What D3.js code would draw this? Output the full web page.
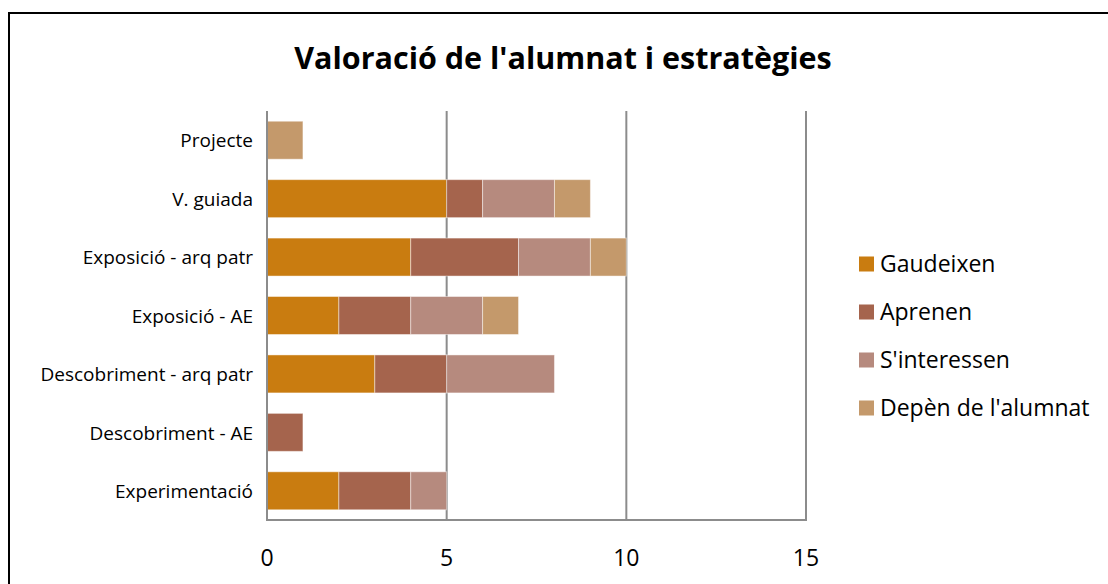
<!DOCTYPE html>
<html>
<head>
<meta charset="utf-8">
<script src="https://cdn.jsdelivr.net/npm/d3@7"></script>
<style>
  body { margin: 0; background: #fff; }
  svg { display: block; font-family: "Open Sans", "Noto Sans", sans-serif; }
</style>
</head>
<body>
<div id="chart"></div>
<script>
// Data
const categories = ["Projecte", "V. guiada", "Exposició - arq patr", "Exposició - AE",
                    "Descobriment - arq patr", "Descobriment - AE", "Experimentació"];
const seriesNames = ["Gaudeixen", "Aprenen", "S'interessen", "Depèn de l'alumnat"];
const gaudeixen   = [0, 5, 4, 2, 3, 0, 2];
const aprenen     = [0, 1, 3, 2, 2, 1, 2];
const interessen  = [0, 2, 2, 2, 3, 0, 1];
const depen       = [1, 1, 1, 1, 0, 0, 0];
const xTicks = [0, 5, 10, 15];

const colors = ["#C97C10", "#A5644D", "#B68A7E", "#C4996B"];

const width = 1108, height = 584;
const svg = d3.select('#chart').append('svg')
    .attr('width', width)
    .attr('height', height);

// Outer frame (cropped on right/bottom)
svg.append('rect')
    .attr('x', 9).attr('y', 13)
    .attr('width', 1200).attr('height', 700)
    .attr('fill', 'none')
    .attr('stroke', '#000')
    .attr('stroke-width', 2);

// Title
svg.append('text')
    .attr('x', 563).attr('y', 69)
    .attr('text-anchor', 'middle')
    .style('font-weight', 'bold')
    .style('font-size', '30.5px')
    .text("Valoració de l'alumnat i estratègies");

const x = d3.scaleLinear().domain([0, 15]).range([267, 806]);
const y = d3.scaleBand().domain(categories).range([111, 520]).paddingInner(0.35).paddingOuter(0.175);

// Gridlines
svg.append('g')
    .selectAll('line')
    .data(xTicks.slice(1))
    .join('line')
    .attr('x1', d => x(d)).attr('x2', d => x(d))
    .attr('y1', 111).attr('y2', 520)
    .attr('stroke', '#8c8c8c')
    .attr('stroke-width', 2);

// Stack
const table = categories.map((c, i) => ({
    cat: c, s0: gaudeixen[i], s1: aprenen[i], s2: interessen[i], s3: depen[i]
}));
const stack = d3.stack().keys(['s0', 's1', 's2', 's3'])(table);

svg.append('g')
    .selectAll('g')
    .data(stack)
    .join('g')
    .attr('fill', (d, i) => colors[i])
    .selectAll('rect')
    .data(d => d.filter(v => v[1] > v[0]))
    .join('rect')
    .attr('x', d => x(d[0]))
    .attr('width', d => x(d[1]) - x(d[0]))
    .attr('y', d => y(d.data.cat))
    .attr('height', y.bandwidth())
    .attr('stroke', 'rgba(255,255,255,0.45)')
    .attr('stroke-width', 1);

// Axes lines
svg.append('line')
    .attr('x1', 267).attr('x2', 267).attr('y1', 111).attr('y2', 521)
    .attr('stroke', '#8c8c8c').attr('stroke-width', 2);
svg.append('line')
    .attr('x1', 266).attr('x2', 807).attr('y1', 520).attr('y2', 520)
    .attr('stroke', '#8c8c8c').attr('stroke-width', 2);

// Category labels
svg.append('g')
    .selectAll('text')
    .data(categories)
    .join('text')
    .attr('x', 253)
    .attr('y', d => y(d) + y.bandwidth() / 2)
    .attr('dy', '0.38em')
    .attr('text-anchor', 'end')
    .style('font-size', '19px')
    .text(d => d);

// Tick labels
svg.append('g')
    .selectAll('text')
    .data(xTicks)
    .join('text')
    .attr('x', d => x(d))
    .attr('y', 558)
    .attr('dy', '0.35em')
    .attr('text-anchor', 'middle')
    .style('font-size', '23px')
    .text(d => d);

// Legend
const legend = svg.append('g')
    .selectAll('g')
    .data(seriesNames)
    .join('g')
    .attr('transform', (d, i) => `translate(859, ${264 + i * 48})`);
legend.append('rect')
    .attr('x', 0).attr('y', -7.5)
    .attr('width', 15).attr('height', 15)
    .attr('fill', (d, i) => colors[i]);
legend.append('text')
    .attr('x', 21).attr('y', 0)
    .attr('dy', '0.35em')
    .style('font-size', '23px')
    .text(d => d);
</script>
</body>
</html>
